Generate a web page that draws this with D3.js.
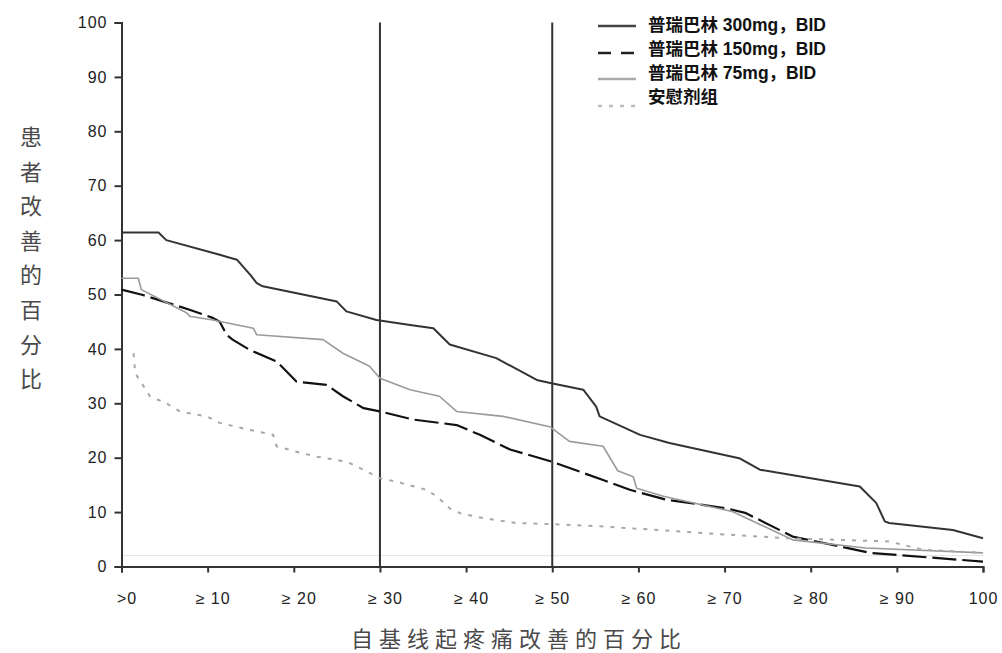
<!DOCTYPE html>
<html>
<head>
<meta charset="utf-8">
<script src="https://cdn.jsdelivr.net/npm/d3@7"></script>
<style>
  body { margin: 0; background: #fff; }
  .legendText { font-family: "Liberation Sans", "Noto Sans CJK SC", sans-serif; font-size: 17.5px; font-weight: bold; fill: #111; }
  .axisTitle { font-family: "Noto Sans CJK SC", sans-serif; fill: #4a4a4a; }
</style>
</head>
<body>
<svg width="1002" height="653"></svg>
<script>
var WIDTH = 1002, HEIGHT = 653;

var xTicks = [0, 10, 20, 30, 40, 50, 60, 70, 80, 90, 100];
var xTickLabels = [">0", "≥ 10", "≥ 20", "≥ 30", "≥ 40", "≥ 50", "≥ 60", "≥ 70", "≥ 80", "≥ 90", "100"];
var yTicks = [0, 10, 20, 30, 40, 50, 60, 70, 80, 90, 100];
var refLines = [30, 50];
var legendNames = ["普瑞巴林 300mg，BID", "普瑞巴林 150mg，BID", "普瑞巴林 75mg，BID", "安慰剂组"];
var xTitle = "自基线起疼痛改善的百分比";
var yTitle = "患者改善的百分比";

// [improvement threshold, % of patients]
var dose300 = [[0, 61.4], [4.3, 61.4], [5.2, 60.0], [11.4, 57.3], [13.4, 56.4], [15.0, 53.5], [15.7, 52.1],
  [16.4, 51.5], [25, 48.7], [26.1, 46.9], [29.6, 45.3], [33.5, 44.4], [36.2, 43.8], [38.1, 40.8], [43.5, 38.3],
  [48.2, 34.3], [49.9, 33.7], [53.6, 32.5], [55.1, 29.4], [55.5, 27.6], [60.2, 24.2], [63.6, 22.7], [71.7, 19.9],
  [74.1, 17.8], [85.7, 14.7], [87.6, 11.7], [88.6, 8.3], [89.1, 8.0], [96.5, 6.7], [100, 5.2]];
var dose150 = [[0, 50.9], [2.5, 49.9], [7.9, 47.2], [10.6, 45.7], [11.4, 45.0], [12.2, 42.6], [12.9, 41.7],
  [14.9, 39.8], [18, 37.7], [20.3, 34.0], [21.9, 33.7], [23.8, 33.4], [25.7, 31.3], [28.1, 29.1], [30, 28.5],
  [33.9, 27.0], [38.9, 26.0], [41.6, 24.2], [45.1, 21.5], [48.6, 19.9], [49.9, 19.3], [53.6, 17.2], [55.9, 15.9],
  [59, 14.1], [63.2, 12.3], [70.2, 10.7], [72.5, 9.8], [77.9, 5.5], [83.4, 3.7], [86.9, 2.5], [100, 0.9]];
var dose75 = [[0, 53.0], [1.95, 53.0], [2.3, 50.9], [7.6, 46.6], [7.9, 46.0], [10.6, 45.3], [15.3, 43.8],
  [15.7, 42.6], [23.4, 41.7], [25.7, 39.2], [28.8, 36.8], [30, 34.6], [33.5, 32.5], [36.9, 31.3], [38.9, 28.5],
  [44.3, 27.6], [49.7, 25.7], [52, 23.0], [55.9, 22.1], [57.6, 17.6], [59.4, 16.5], [59.8, 14.4], [62.9, 12.9],
  [70.9, 10.1], [77.9, 4.9], [86.4, 3.4], [100, 2.5]];
var placebo = [[1.4, 39.2], [1.6, 35.5], [2.1, 34.3], [3.3, 31.3], [5.2, 30.0], [6.8, 28.5], [9.9, 27.6],
  [11.4, 26.4], [14.9, 25.1], [17.6, 24.2], [18, 22.1], [20.3, 21.1], [22.6, 20.2], [25, 19.6], [26.5, 19.0],
  [28.8, 17.2], [30, 16.2], [31.9, 15.6], [35.4, 14.1], [36.6, 12.9], [38.1, 10.7], [39.3, 9.8], [42, 8.9],
  [45.8, 8.0], [51.3, 7.7], [55.5, 7.4], [65.2, 6.4], [67.9, 6.1], [77.2, 5.2], [89.1, 4.6], [93, 3.1], [100, 2.5]];

var seriesData = [dose300, dose150, dose75, placebo];
var seriesStyle = [
  { stroke: "#333", width: 2, dash: null },
  { stroke: "#111", width: 2.2, dash: "24,6" },
  { stroke: "#9a9a9a", width: 1.6, dash: null },
  { stroke: "#a8a8a8", width: 2, dash: "4,7" }
];
var legendStyle = [
  { stroke: "#444", width: 2.5, dash: null },
  { stroke: "#222", width: 2.5, dash: "13,10" },
  { stroke: "#aaa", width: 2.5, dash: null },
  { stroke: "#bbb", width: 2.5, dash: "4,7" }
];

var svg = d3.select("svg");
var x = d3.scaleLinear().domain([0, 100]).range([121.5, 983]);
var y = d3.scaleLinear().domain([0, 100]).range([566.5, 22.5]);

// faint baseline rule seen in the source
svg.append("line")
  .attr("x1", x(0)).attr("x2", x(100))
  .attr("y1", y(2)).attr("y2", y(2))
  .attr("stroke", "#e2e2e2").attr("stroke-width", 1);

// reference lines at >=30 and >=50
svg.selectAll(".refLine")
  .data(refLines)
  .enter().append("line")
  .attr("class", "refLine")
  .attr("x1", function (d) { return x(d); })
  .attr("x2", function (d) { return x(d); })
  .attr("y1", y(100)).attr("y2", y(0))
  .attr("stroke", "#333").attr("stroke-width", 2);

function styleTicks (g) {
  g.attr("font-family", "Liberation Sans, Arial, sans-serif").attr("font-size", 16);
  g.select(".domain").attr("stroke", "#333").attr("stroke-width", 2);
  g.selectAll(".tick line").attr("stroke", "#333").attr("stroke-width", 2);
  g.selectAll(".tick text").attr("fill", "#222").style("letter-spacing", "1px");
}

// axes
var yAxis = d3.axisLeft(y).tickValues(yTicks).tickSize(7).tickPadding(7);
var gy = svg.append("g").attr("transform", "translate(" + x(0) + ",0)").call(yAxis);
styleTicks(gy);

var xAxis = d3.axisBottom(x).tickValues(xTicks).tickSize(6).tickPadding(20)
  .tickFormat(function (d, i) { return xTickLabels[i]; });
var gx = svg.append("g").attr("transform", "translate(0," + y(0) + ")").call(xAxis);
styleTicks(gx);
gx.selectAll(".tick text").attr("dx", function (d) { return d < 50 ? 5 : 0; });

// series
var line = d3.line()
  .x(function (d) { return x(d[0]); })
  .y(function (d) { return y(d[1]); });

seriesData.forEach(function (s, i) {
  svg.append("path")
    .datum(s)
    .attr("d", line)
    .attr("fill", "none")
    .attr("stroke", seriesStyle[i].stroke)
    .attr("stroke-width", seriesStyle[i].width)
    .attr("stroke-dasharray", seriesStyle[i].dash)
    .attr("stroke-linejoin", "round");
});

// legend
var legendLineY = [26, 53, 79, 106];
var legendTextY = [31, 55, 79, 103];
legendNames.forEach(function (name, i) {
  svg.append("line")
    .attr("x1", 598).attr("x2", 636)
    .attr("y1", legendLineY[i]).attr("y2", legendLineY[i])
    .attr("stroke", legendStyle[i].stroke)
    .attr("stroke-width", legendStyle[i].width)
    .attr("stroke-dasharray", legendStyle[i].dash);
  svg.append("text")
    .attr("class", "legendText")
    .attr("x", 648)
    .attr("y", legendTextY[i])
    .text(name);
});

// axis titles
svg.append("text")
  .attr("class", "axisTitle")
  .attr("x", 519)
  .attr("y", 647)
  .attr("text-anchor", "middle")
  .attr("font-size", 22)
  .attr("letter-spacing", 6)
  .text(xTitle);

svg.selectAll(".yTitleChar")
  .data(yTitle.split(""))
  .enter().append("text")
  .attr("class", "axisTitle yTitleChar")
  .attr("x", 31)
  .attr("y", function (d, i) { return 137 + i * 34.6 + 8; })
  .attr("text-anchor", "middle")
  .attr("font-size", 22)
  .text(function (d) { return d; });
</script>
</body>
</html>
